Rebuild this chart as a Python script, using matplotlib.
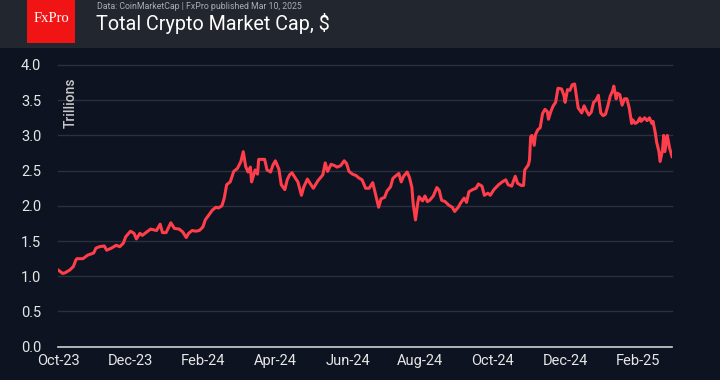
import matplotlib
matplotlib.use("Agg")
import matplotlib.pyplot as plt
import matplotlib.dates as mdates
from matplotlib.patches import Rectangle
import pandas as pd

# ---- data (total crypto market cap, trillions USD) ----
start_date = "2023-10-09"
day_offsets = [
    0, 4, 6, 10, 13, 15, 16,
    21, 25, 30, 32, 35, 39, 41, 45, 49, 52, 55, 57, 61, 64, 66, 69, 71, 74, 78, 83,
    86, 88, 91, 95, 98, 102, 105, 108, 110, 113, 116, 119, 122, 124, 127, 130, 133, 135, 138, 140,
    142, 145, 148, 151, 154, 156, 158, 160, 162, 163, 166, 168, 169, 172, 174, 176, 179, 181, 183, 186,
    188, 191, 193, 195, 197, 200, 202, 205, 207, 210, 213, 215, 219,
    223, 225, 227, 230, 233, 235, 238, 241, 243, 245, 248, 251, 253, 256, 259, 262, 265, 267, 270, 272,
    275, 277, 280, 282, 284, 287, 289, 291, 294, 296, 298, 299, 301, 303, 304, 307, 309, 311, 313, 316,
    319, 321, 323, 326, 329, 332, 334, 337, 339, 342, 344, 346, 349, 352, 354, 357, 359, 362, 364, 367,
    371, 374, 377, 379, 382, 385, 387, 390, 392, 393, 396, 397, 398, 399, 401, 402, 404, 406, 408, 410,
    412, 413, 415, 417, 419, 421,
    424, 426, 427, 429, 431, 433, 435, 437, 438, 441, 443, 445, 447, 449, 451, 453, 455, 457, 459, 461,
    463, 465, 467, 468, 470, 471, 473, 475, 477, 479, 481, 483, 484, 486, 488, 490, 491, 494, 496, 498,
    500, 501, 503, 504, 506, 507, 509, 510, 511, 513, 514, 515, 517,
]
market_cap = [
    1.09, 1.04, 1.05, 1.09, 1.14, 1.23, 1.25,
    1.25, 1.30, 1.33, 1.40, 1.42, 1.43, 1.37, 1.40, 1.44, 1.42, 1.47, 1.56, 1.64, 1.61, 1.53, 1.61, 1.58, 1.62, 1.67, 1.65,
    1.74, 1.62, 1.62, 1.76, 1.68, 1.67, 1.63, 1.55, 1.61, 1.65, 1.64, 1.65, 1.70, 1.80, 1.87, 1.94, 1.98, 1.97, 2.00, 2.11,
    2.30, 2.34, 2.49, 2.53, 2.63, 2.77, 2.56, 2.48, 2.55, 2.34, 2.51, 2.45, 2.66, 2.66, 2.66, 2.51, 2.48, 2.58, 2.64, 2.52,
    2.30, 2.23, 2.37, 2.44, 2.47, 2.39, 2.34, 2.15, 2.27, 2.38, 2.30, 2.25, 2.36,
    2.44, 2.61, 2.49, 2.59, 2.57, 2.55, 2.57, 2.64, 2.60, 2.49, 2.45, 2.43, 2.40, 2.37, 2.25, 2.25, 2.33, 2.19, 1.98, 2.10,
    2.12, 2.21, 2.27, 2.39, 2.42, 2.46, 2.34, 2.42, 2.48, 2.40, 2.26, 2.04, 1.80, 2.05, 2.13, 2.07, 2.14, 2.06, 2.08, 2.14,
    2.26, 2.22, 2.08, 2.06, 2.01, 1.98, 1.92, 1.98, 2.04, 2.11, 2.05, 2.20, 2.23, 2.25, 2.31, 2.28, 2.15, 2.18, 2.15, 2.23,
    2.30, 2.34, 2.37, 2.30, 2.28, 2.42, 2.32, 2.29, 2.29, 2.51, 2.58, 2.65, 2.98, 3.00, 2.86, 3.01, 3.08, 3.11, 3.31, 3.37,
    3.34, 3.23, 3.34, 3.42, 3.47, 3.67,
    3.66, 3.57, 3.47, 3.65, 3.64, 3.72, 3.73, 3.50, 3.39, 3.32, 3.42, 3.35, 3.29, 3.33, 3.47, 3.50, 3.57, 3.32, 3.28, 3.30,
    3.42, 3.56, 3.63, 3.70, 3.52, 3.60, 3.58, 3.43, 3.52, 3.52, 3.39, 3.17, 3.22, 3.17, 3.19, 3.25, 3.20, 3.25, 3.21, 3.25,
    3.17, 3.20, 3.03, 2.91, 2.77, 2.63, 2.79, 3.00, 2.77, 3.00, 2.91, 2.82, 2.70,
]
y_ticks = [0.0, 0.5, 1.0, 1.5, 2.0, 2.5, 3.0, 3.5, 4.0]
title = "Total Crypto Market Cap, $"
subtitle = "Data: CoinMarketCap | FxPro published Mar 10, 2025"
y_label = "Trillions"

# ---- styling ----
BG = "#0d1320"
HEADER = "#22262f"
RED = "#ff3d4b"
GRID = "#2a303c"
TEXT = "#e6e6e6"

plt.rcParams["font.family"] = ["Roboto", "DejaVu Sans"]

dates = pd.Timestamp(start_date) + pd.to_timedelta(day_offsets, unit="D")

fig = plt.figure(figsize=(7.2, 3.8), dpi=100, facecolor=BG)

# header band
fig.patches.append(Rectangle((0, 1 - 48 / 380), 1, 48 / 380, transform=fig.transFigure,
                             facecolor=HEADER, edgecolor="none", zorder=0))
# logo
fig.patches.append(Rectangle((27 / 720, 1 - 42.5 / 380), 48 / 720, 42.5 / 380,
                             transform=fig.transFigure, facecolor="#f01414",
                             edgecolor="none", zorder=1))
fig.text(51 / 720, 1 - 19 / 380, "FxPro", color="white", fontsize=10.5,
         family=["Liberation Serif", "DejaVu Serif"], ha="center", va="center")
fig.text(97 / 720, 1 - 6.5 / 380, subtitle, color="#a9adb5", fontsize=6.3, ha="left", va="center")
fig.text(96 / 720, 1 - 24 / 380, title, color="white", fontsize=14.2, ha="left", va="center")

ax = fig.add_axes([58 / 720, 1 - 346.7 / 380, (672 - 58) / 720, (346.7 - 65) / 380])
ax.set_facecolor(BG)
ax.plot(dates, market_cap, color=RED, lw=2.2, solid_joinstyle="round", zorder=3)

ax.set_ylim(0, 4.0)
ax.set_xlim(dates[0], dates[-1])
ax.set_yticks(y_ticks)
ax.set_yticklabels([f"{v:.1f}" for v in y_ticks])
for v in y_ticks[1:]:
    ax.axhline(v, color=GRID, lw=1.0, zorder=1, clip_on=False)
ax.axhline(0, color="#d0d0d0", lw=1.2, zorder=2, clip_on=False)

tick_dates = pd.date_range(start_date, periods=9, freq="61D")
ax.set_xticks(tick_dates)
ax.xaxis.set_major_formatter(mdates.DateFormatter("%b-%y"))

for s in ax.spines.values():
    s.set_visible(False)
ax.tick_params(axis="both", length=0, colors=TEXT, labelsize=10.5)
ax.tick_params(axis="y", pad=12)
ax.tick_params(axis="x", pad=5)

ax.text(0.009, 0.955, y_label, transform=ax.transAxes, rotation=90, color="#c8c8c8",
        fontsize=10, fontweight="medium", ha="left", va="top")

fig.savefig("out.png", dpi=100, facecolor=BG)
